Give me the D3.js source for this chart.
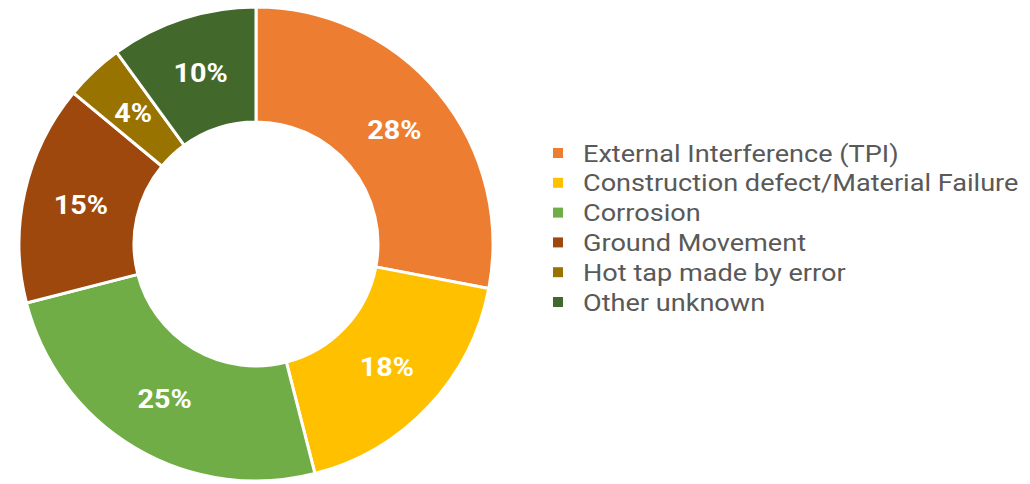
<!DOCTYPE html>
<html lang="en">
<head>
<meta charset="UTF-8">
<title>Pipeline incident causes</title>
<script src="https://d3js.org/d3.v7.min.js"></script>
<style>
  body { margin: 0; background: #fff; }
  svg { display: block; }
</style>
</head>
<body>
<div id="chart"></div>
<script>
// data
var causes = ["External Interference (TPI)", "Construction defect/Material Failure", "Corrosion",
              "Ground Movement", "Hot tap made by error", "Other unknown"];
var shares = [28, 18, 25, 15, 4, 10];
var colors = ["#ED7D31", "#FFC000", "#70AD47", "#9E480E", "#997300", "#43682B"];

var width = 1030, height = 484;
var cx = 256, cy = 244;
var outerR = 237, innerR = 122;

var svg = d3.select("#chart").append("svg")
    .attr("width", width)
    .attr("height", height);

var pie = d3.pie().sort(null).value(function(d) { return d; });
var arc = d3.arc().innerRadius(innerR).outerRadius(outerR);
var midR = (innerR + outerR) / 2;
var labelArc = d3.arc().innerRadius(midR).outerRadius(midR);

var g = svg.append("g").attr("transform", "translate(" + cx + "," + cy + ")");
var arcs = pie(shares);

g.selectAll("path")
    .data(arcs)
    .enter().append("path")
    .attr("d", arc)
    .attr("fill", function(d, i) { return colors[i]; })
    .attr("stroke", "#fff")
    .attr("stroke-width", 3)
    .attr("stroke-linejoin", "round");

// labels look a bit wider than plain Roboto in the source, so stretch them a little
g.selectAll("text.pct")
    .data(arcs)
    .enter().append("text")
    .attr("class", "pct")
    .attr("transform", function(d) { return "translate(" + labelArc.centroid(d) + ") scale(1.15,1)"; })
    .attr("text-anchor", "middle")
    .attr("dy", "0.36em")
    .attr("font-family", "Roboto, sans-serif")
    .attr("font-weight", "bold")
    .attr("font-size", 25)
    .attr("fill", "#fff")
    .text(function(d) { return d.data + "%"; });

// legend
var legendY = d3.scalePoint().domain(causes).range([153, 302]);
var legend = svg.append("g");
var item = legend.selectAll("g")
    .data(causes)
    .enter().append("g")
    .attr("transform", function(d) { return "translate(553," + legendY(d) + ")"; });

item.append("rect")
    .attr("x", 0).attr("y", -5)
    .attr("width", 10).attr("height", 10)
    .attr("fill", function(d, i) { return colors[i]; });

item.append("text")
    .attr("transform", "translate(30,0) scale(1.13,1)")
    .attr("dy", "0.36em")
    .attr("font-family", "Roboto, sans-serif")
    .attr("font-size", 24)
    .attr("fill", "#595959")
    .text(function(d) { return d; });
</script>
</body>
</html>
